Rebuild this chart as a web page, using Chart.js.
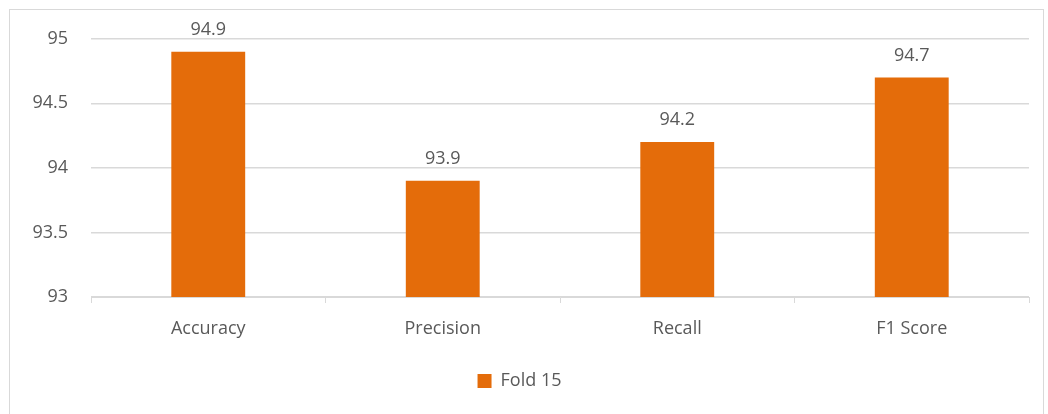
<!DOCTYPE html>
<html>
<head>
<meta charset="utf-8">
<script src="https://cdn.jsdelivr.net/npm/chart.js@4"></script>
<style>
  body { margin: 0; background: #fff; }
  #box {
    position: absolute; left: 9px; top: 9px;
    width: 1035px; height: 410px;
    border: 1px solid #d9d9d9; box-sizing: border-box;
  }
  #wrap { position: absolute; left: 0; top: -5px; width: 1033px; height: 413px; }
</style>
</head>
<body>
<div id="box"><div id="wrap"><canvas id="chart"></canvas></div></div>
<script>
// 数据
const categories = ['Accuracy', 'Precision', 'Recall', 'F1 Score'];
const fold15 = [94.9, 93.9, 94.2, 94.7];
const yTicks = [93, 93.5, 94, 94.5, 95];

const textColor = '#595959';
const gridColor = '#d9d9d9';
const barColor = '#e46c0a';
const font = 'Open Sans';

// 柱顶数值标签
const valueLabels = {
  id: 'valueLabels',
  afterDatasetsDraw(chart) {
    const ctx = chart.ctx;
    const meta = chart.getDatasetMeta(0);
    ctx.save();
    ctx.fillStyle = textColor;
    ctx.font = '18px ' + font;
    ctx.textAlign = 'center';
    ctx.textBaseline = 'middle';
    meta.data.forEach((bar, i) => {
      ctx.fillText(String(fold15[i]), bar.x, bar.y - 22);
    });
    ctx.restore();
  }
};

new Chart(document.getElementById('chart'), {
  type: 'bar',
  data: {
    labels: categories,
    datasets: [{
      label: 'Fold 15',
      data: fold15,
      backgroundColor: barColor,
      borderWidth: 0,
      barPercentage: 1,
      categoryPercentage: 0.315
    }]
  },
  options: {
    responsive: true,
    maintainAspectRatio: false,
    animation: false,
    layout: { padding: { top: 18, right: 14, bottom: 18, left: 0 } },
    plugins: {
      tooltip: { enabled: false },
      legend: {
        position: 'bottom',
        labels: {
          color: textColor,
          font: { family: font, size: 18 },
          boxWidth: 14,
          boxHeight: 14,
          padding: 10
        }
      }
    },
    scales: {
      x: {
        grid: {
          offset: true,
          drawOnChartArea: false,
          drawTicks: true,
          tickLength: 6,
          color: gridColor
        },
        border: { color: gridColor },
        ticks: {
          color: textColor,
          font: { family: font, size: 18 },
          padding: 15
        },
        afterFit(scale) { scale.height = 65; }
      },
      y: {
        min: 93,
        max: 95,
        afterBuildTicks(scale) {
          scale.ticks = yTicks.map(v => ({ value: v }));
        },
        grid: { color: gridColor, lineWidth: 1.5, drawTicks: false },
        border: { display: false },
        ticks: {
          color: textColor,
          font: { family: font, size: 18 },
          padding: 23,
          callback: v => String(v)
        },
        afterFit(scale) { scale.width = 81; }
      }
    }
  },
  plugins: [valueLabels]
});
</script>
</body>
</html>
